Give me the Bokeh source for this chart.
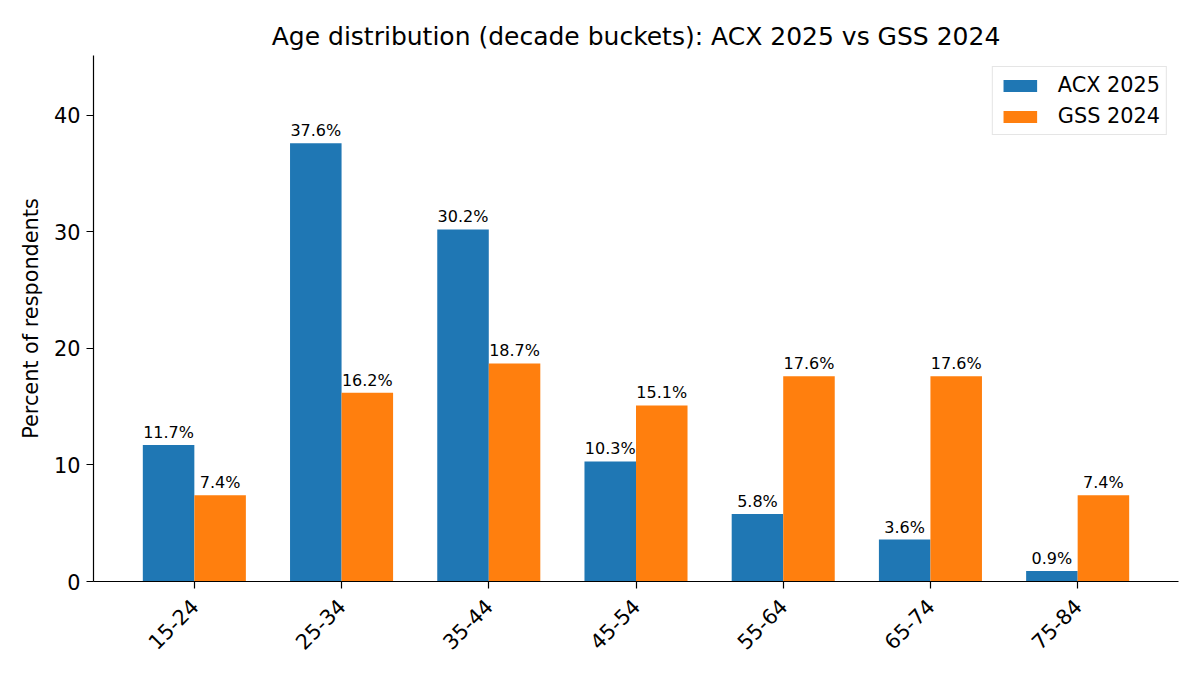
import math
from bokeh.plotting import figure
from bokeh.models import ColumnDataSource, FixedTicker, Range1d, Legend, LegendItem, LabelSet
from bokeh.core.properties import value
from bokeh.embed import file_html
from bokeh.resources import INLINE

categories = ["15-24", "25-34", "35-44", "45-54", "55-64", "65-74", "75-84"]
acx_2025 = [11.7, 37.6, 30.2, 10.3, 5.8, 3.6, 0.9]
gss_2024 = [7.4, 16.2, 18.7, 15.1, 17.6, 17.6, 7.4]
series_names = ["ACX 2025", "GSS 2024"]
y_ticks = [0, 10, 20, 30, 40]

BLUE = "#1f77b4"
ORANGE = "#ff7f0e"
FONT = "DejaVu Sans"
BW = 0.35

idx = list(range(len(categories)))
src_a = ColumnDataSource(dict(x=[i - BW / 2 for i in idx], y=acx_2025,
                              lab=[f"{v:.1f}%" for v in acx_2025]))
src_g = ColumnDataSource(dict(x=[i + BW / 2 for i in idx], y=gss_2024,
                              lab=[f"{v:.1f}%" for v in gss_2024]))

n = len(categories)
xmin, xmax = -BW, n - 1 + BW
pad = 0.05 * (xmax - xmin)
ymax = max(max(acx_2025), max(gss_2024)) * 1.2

p = figure(width=1184, height=659, output_backend="svg", toolbar_location=None,
           x_range=Range1d(xmin - pad, xmax + pad), y_range=Range1d(0, ymax),
           min_border_left=93, min_border_right=6, min_border_top=55, min_border_bottom=78,
           title="Age distribution (decade buckets): ACX 2025 vs GSS 2024")
p.title.text_font = FONT
p.title.text_font_size = "25px"
p.title.text_font_style = "normal"
p.title.align = "center"
p.title.text_color = "black"
p.title.standoff = 9

p.outline_line_color = None
p.xgrid.visible = False
p.ygrid.visible = False

ra = p.vbar(x="x", top="y", width=BW, source=src_a, fill_color=BLUE, line_color=None)
rg = p.vbar(x="x", top="y", width=BW, source=src_g, fill_color=ORANGE, line_color=None)

for s in (src_a, src_g):
    ls = LabelSet(x="x", y="y", text="lab", source=s, y_offset=3, text_align="center",
                  text_baseline="bottom", text_font=value(FONT), text_font_size="16px",
                  text_color="black")
    p.add_layout(ls)

for ax in (p.xaxis[0], p.yaxis[0]):
    ax.axis_line_color = "black"
    ax.axis_line_width = 1.2
    ax.major_tick_line_color = "black"
    ax.major_tick_line_width = 1.2
    ax.major_tick_out = 7
    ax.major_tick_in = 0
    ax.minor_tick_line_color = None
    ax.major_label_text_font = FONT
    ax.major_label_text_font_size = "20.8px"
    ax.major_label_text_color = "black"

p.xaxis.ticker = FixedTicker(ticks=idx)
p.xaxis.major_label_overrides = {i: c for i, c in enumerate(categories)}
p.xaxis.major_label_orientation = math.pi / 4
p.xaxis.major_label_standoff = 14

p.yaxis.ticker = FixedTicker(ticks=y_ticks)
p.yaxis.major_label_standoff = 6
p.yaxis.axis_label = "Percent of respondents"
p.yaxis.axis_label_text_font = FONT
p.yaxis.axis_label_text_font_size = "20.8px"
p.yaxis.axis_label_text_font_style = "normal"
p.yaxis.axis_label_text_color = "black"
p.yaxis.axis_label_standoff = 8

legend = Legend(items=[LegendItem(label=series_names[0], renderers=[ra]),
                       LegendItem(label=series_names[1], renderers=[rg])],
                location="top_right")
legend.label_text_font = FONT
legend.label_text_font_size = "20.8px"
legend.label_text_color = "black"
legend.border_line_color = "#cccccc"
legend.border_line_width = 1.5
legend.background_fill_alpha = 0.8
legend.glyph_width = 42
legend.glyph_height = 15
legend.label_height = 20
legend.label_standoff = 17
legend.spacing = 7
legend.padding = 6
legend.margin = 11
p.add_layout(legend)

open("out.html", "w").write(file_html(p, INLINE))
